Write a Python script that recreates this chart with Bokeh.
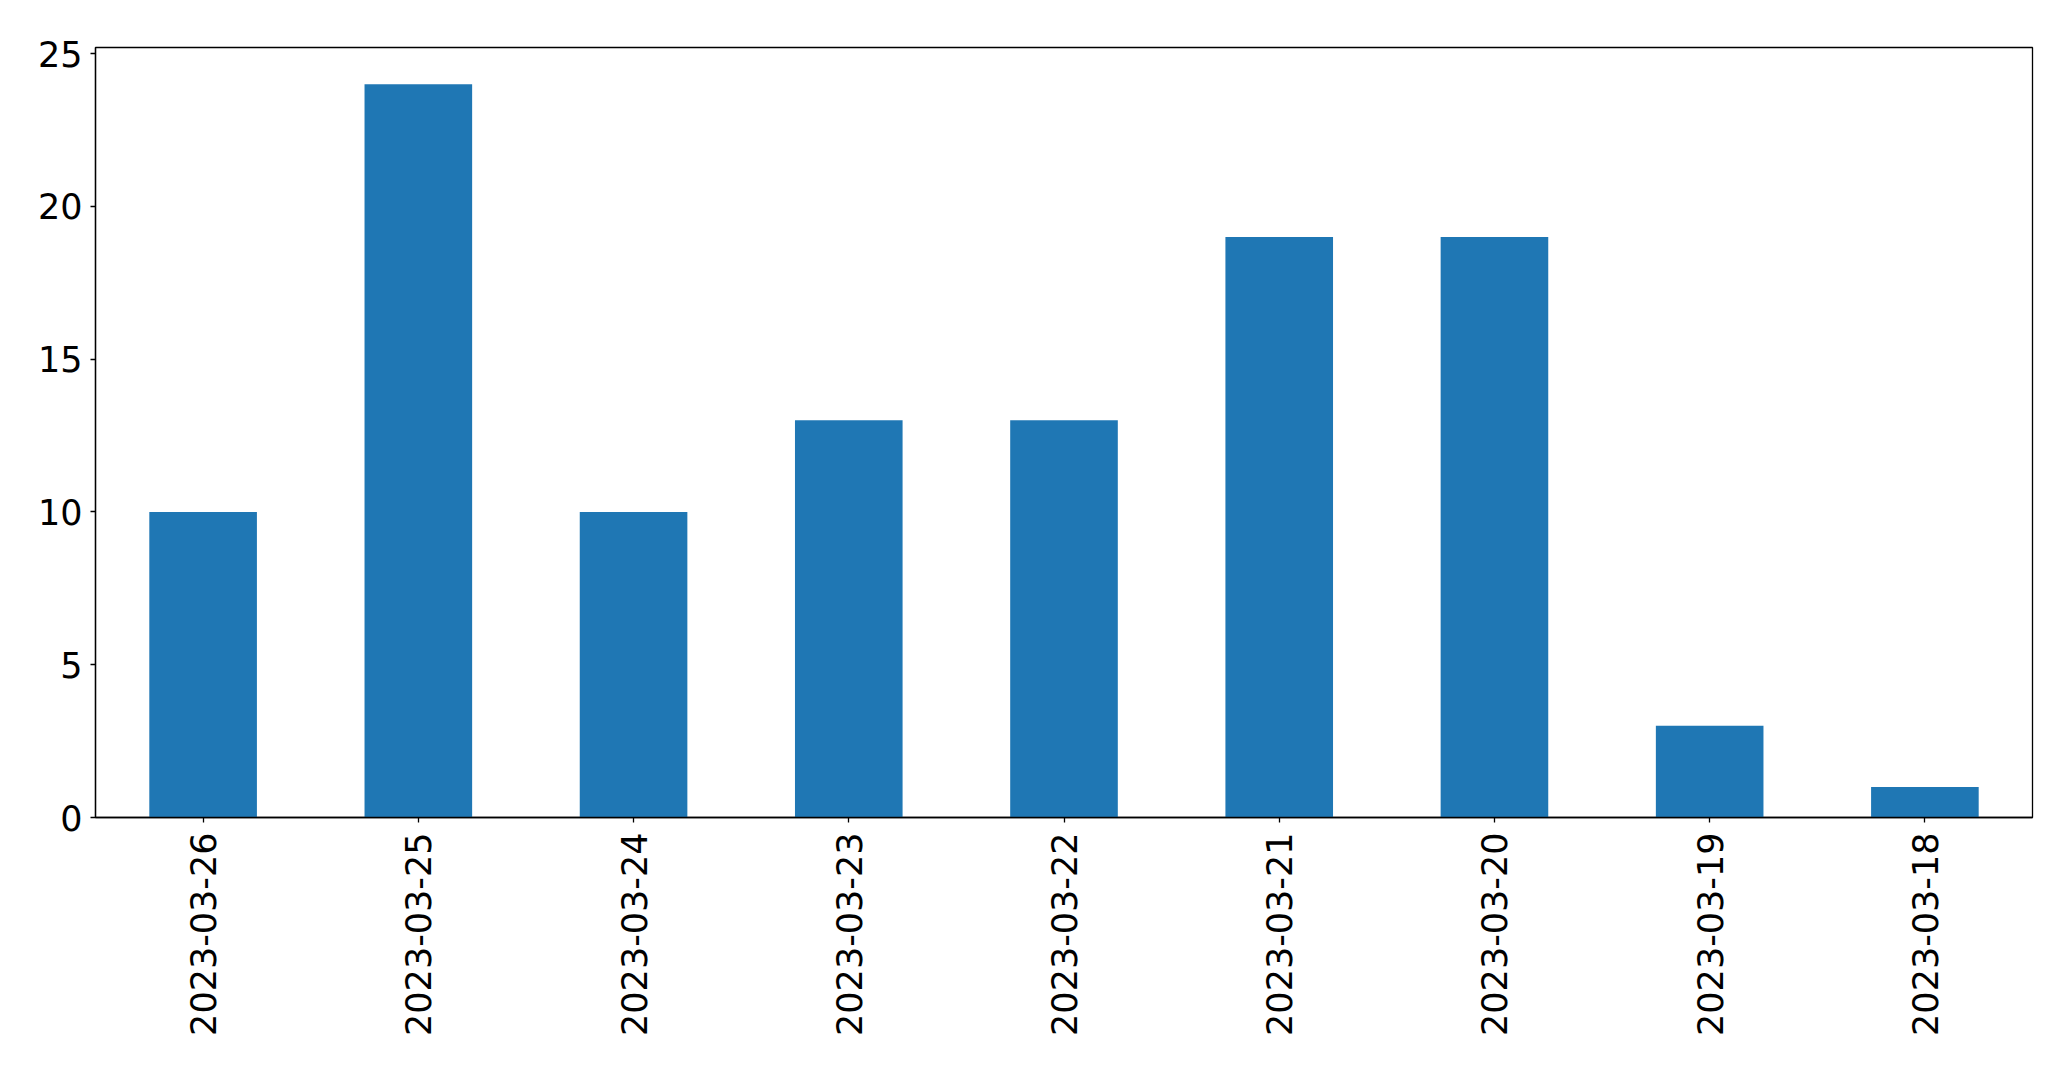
import math
from bokeh.plotting import figure
from bokeh.models import ColumnDataSource, FactorRange, Range1d, FixedTicker
from bokeh.embed import file_html
from bokeh.resources import INLINE

dates = ["2023-03-26", "2023-03-25", "2023-03-24", "2023-03-23", "2023-03-22",
         "2023-03-21", "2023-03-20", "2023-03-19", "2023-03-18"]
counts = [10, 24, 10, 13, 13, 19, 19, 3, 1]
y_ticks = [0, 5, 10, 15, 20, 25]

source = ColumnDataSource(data=dict(date=dates, count=counts))

p = figure(x_range=FactorRange(factors=dates, range_padding=0),
           y_range=Range1d(0, 25.2),
           width=2063, height=1061,
           output_backend="svg", toolbar_location=None,
           min_border_left=95, min_border_top=47, min_border_right=31, min_border_bottom=244)

p.vbar(x="date", top="count", width=0.5, source=source, color="#1f77b4", line_color=None)

p.xgrid.visible = False
p.ygrid.visible = False
p.outline_line_color = "black"
p.outline_line_width = 1.3
p.outline_line_alpha = 1.0

for ax in (p.xaxis[0], p.yaxis[0]):
    ax.axis_line_color = "black"
    ax.axis_line_width = 1.3
    ax.major_tick_line_color = "black"
    ax.major_tick_line_width = 1.3
    ax.major_tick_in = 0
    ax.major_tick_out = 5
    ax.minor_tick_line_color = None
    ax.major_label_text_font = "DejaVu Sans"
    ax.major_label_text_font_size = "35px"
    ax.major_label_text_color = "black"

p.yaxis.ticker = FixedTicker(ticks=y_ticks)
p.yaxis.major_label_standoff = 8
p.xaxis.major_label_orientation = math.pi / 2
p.xaxis.major_label_standoff = 10

open("out.html", "w").write(file_html(p, INLINE))
